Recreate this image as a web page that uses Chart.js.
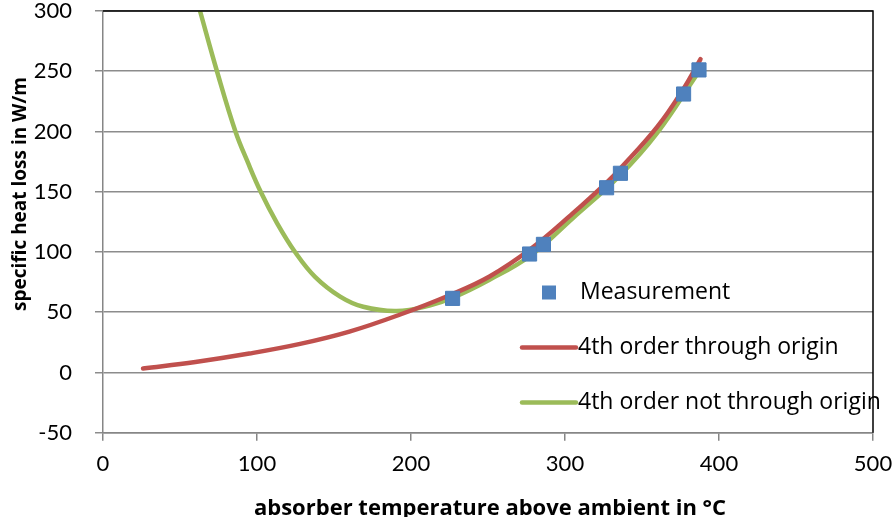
<!DOCTYPE html>
<html>
<head>
<meta charset="utf-8">
<script src="https://cdn.jsdelivr.net/npm/chart.js@4.4.0/dist/chart.umd.min.js"></script>
<style>
  body { margin: 0; background: #fff; }
  #wrap { width: 894px; height: 517px; position: relative; }
</style>
</head>
<body>
<div id="wrap"><canvas id="chart"></canvas></div>
<script>
// measured points (absorber temp above ambient, heat loss)
const measX = [227, 277, 286, 327, 336, 377, 387];
const measY = [61.5, 98.3, 106.3, 153.3, 165.3, 231.1, 251.1];

// 4th order fit through origin
const originX = [26, 60, 95, 128, 160, 193, 225, 251, 277, 305, 327, 336, 360, 377, 388];
const originY = [3.3, 8.7, 15.7, 23.7, 33.9, 48.1, 64.1, 79.7, 101.8, 132, 157.6, 169.3, 204, 235.5, 260];

// 4th order fit not through origin
const freeX = [63, 74, 86, 94, 102.4, 113, 124.7, 137.7, 154, 169, 190.7, 212, 227, 251, 277, 305, 336, 360, 386];
const freeY = [300, 250, 200, 174.5, 150, 124, 100, 79.4, 63, 54.5, 51, 55.5, 62, 77, 96.5, 128, 164, 199, 248];

const xTicks = [0, 100, 200, 300, 400, 500];
const yTicks = [-50, 0, 50, 100, 150, 200, 250, 300];

const seriesNames = ['Measurement', '4th order through origin', '4th order not through origin'];
const xTitle = 'absorber temperature above ambient in °C';
const yTitle = 'specific heat loss in W/m';

const FONT = 'Lato, "Open Sans", sans-serif';
const FONT2 = '"Open Sans", sans-serif';
const pts = (xs, ys) => xs.map((x, i) => ({ x: x, y: ys[i] }));

// legend, frame and axis titles drawn by hand to match the original layout
const extras = {
  id: 'extras',
  afterDraw(chart) {
    const ctx = chart.ctx;
    const a = chart.chartArea;
    const ds = chart.data.datasets;
    ctx.save();

    // legend
    ctx.font = '23px ' + FONT2;
    ctx.fillStyle = '#000';
    ctx.textBaseline = 'middle';
    const rows = [292.5, 347.5, 402.5];
    ds.forEach((d, i) => {
      const y = rows[i];
      if (i === 0) {
        ctx.fillStyle = d.backgroundColor;
        ctx.fillRect(542, y - 7, 14, 14);
        ctx.fillStyle = '#000';
        ctx.fillText(d.label, 580, y);
      } else {
        ctx.strokeStyle = d.borderColor;
        ctx.lineWidth = 4.5;
        ctx.lineCap = 'round';
        ctx.beginPath();
        ctx.moveTo(522, y);
        ctx.lineTo(576, y);
        ctx.stroke();
        ctx.fillText(d.label, 578, y);
      }
    });

    // top and right frame
    ctx.strokeStyle = '#000';
    ctx.lineWidth = 1.5;
    ctx.lineCap = 'butt';
    ctx.beginPath();
    ctx.moveTo(a.left, a.top);
    ctx.lineTo(a.right, a.top);
    ctx.lineTo(a.right, a.bottom);
    ctx.stroke();

    // axis titles
    ctx.textAlign = 'center';
    ctx.textBaseline = 'alphabetic';
    ctx.font = 'bold 22px ' + FONT2;
    ctx.fillText(xTitle, 490, 515);
    ctx.font = 'bold 19px ' + FONT2;
    ctx.translate(26, 194);
    ctx.rotate(-Math.PI / 2);
    ctx.fillText(yTitle, 0, 0);
    ctx.restore();
  }
};

new Chart(document.getElementById('chart'), {
  type: 'scatter',
  data: {
    datasets: [
      {
        label: seriesNames[0],
        data: pts(measX, measY),
        pointStyle: 'rect',
        pointRadius: 10,
        backgroundColor: '#4F81BD',
        borderColor: '#4A7EBB',
        borderWidth: 1,
        order: 0
      },
      {
        label: seriesNames[1],
        data: pts(originX, originY),
        showLine: true,
        borderColor: '#C0504D',
        borderWidth: 4.5,
        pointRadius: 0,
        tension: 0.4,
        borderCapStyle: 'round',
        order: 1
      },
      {
        label: seriesNames[2],
        data: pts(freeX, freeY),
        showLine: true,
        borderColor: '#9BBB59',
        borderWidth: 4.5,
        pointRadius: 0,
        tension: 0.4,
        borderCapStyle: 'round',
        order: 2
      }
    ]
  },
  options: {
    responsive: true,
    maintainAspectRatio: false,
    animation: false,
    layout: { padding: { top: 11, right: 21, left: 0, bottom: 0 } },
    plugins: {
      legend: { display: false },
      tooltip: { enabled: false }
    },
    scales: {
      x: {
        type: 'linear',
        min: 0,
        max: 500,
        afterBuildTicks: s => { s.ticks = xTicks.map(v => ({ value: v })); },
        afterFit: s => { s.height = 84.3; s.paddingLeft = 0; s.paddingRight = 0; },
        grid: { drawOnChartArea: false, color: '#868686', tickLength: 8, lineWidth: 1.5 },
        border: { color: '#868686', width: 1.5 },
        ticks: { color: '#000', font: { family: FONT, size: 22 }, padding: 10 }
      },
      y: {
        type: 'linear',
        min: -50,
        max: 300,
        afterBuildTicks: s => { s.ticks = yTicks.map(v => ({ value: v })); },
        afterFit: s => { s.width = 103; s.paddingTop = 0; s.paddingBottom = 0; },
        grid: { color: '#8C8C8C', tickLength: 8, lineWidth: 1.5 },
        border: { color: '#868686', width: 1.5 },
        ticks: { color: '#000', font: { family: FONT, size: 22 }, padding: 23 }
      }
    }
  },
  plugins: [extras]
});
</script>
</body>
</html>
